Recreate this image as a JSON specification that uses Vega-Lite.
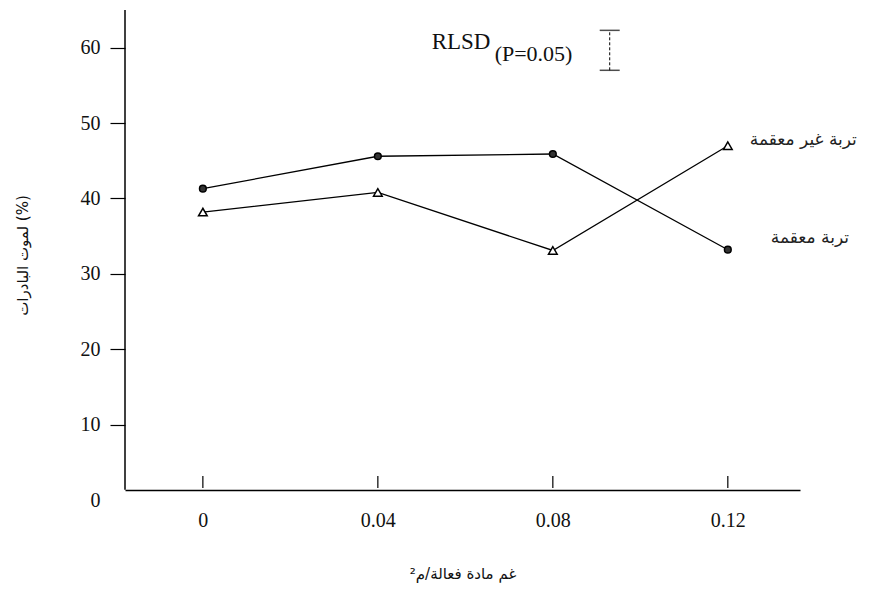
{
  "$schema": "https://vega.github.io/schema/vega-lite/v6.json",
  "width": 675,
  "height": 490,
  "autosize": {"type": "none"},
  "padding": {"left": 125, "top": 10, "right": 83, "bottom": 100},
  "background": "white",
  "config": {
    "view": {"stroke": null},
    "axis": {"grid": false, "domainColor": "black", "tickColor": "black", "labelColor": "#111", "titleColor": "#111", "labelFont": "Liberation Serif", "labelFontSize": 20, "titleFont": "DejaVu Sans", "titleFontWeight": "normal", "titleFontSize": 15, "domainWidth": 1.5, "tickWidth": 1.2}
  },
  "datasets": {
    "series": [
      {"soil": "تربة معقمة", "dose": 0, "death": 41.3},
      {"soil": "تربة معقمة", "dose": 0.04, "death": 45.6},
      {"soil": "تربة معقمة", "dose": 0.08, "death": 45.9},
      {"soil": "تربة معقمة", "dose": 0.12, "death": 33.2},
      {"soil": "تربة غير معقمة", "dose": 0, "death": 38.2},
      {"soil": "تربة غير معقمة", "dose": 0.04, "death": 40.8},
      {"soil": "تربة غير معقمة", "dose": 0.08, "death": 33.1},
      {"soil": "تربة غير معقمة", "dose": 0.12, "death": 47.0}
    ]
  },
  "layer": [
    {
      "data": {"name": "series"},
      "mark": {"type": "line", "color": "black", "strokeWidth": 1.3},
      "encoding": {
        "x": {"field": "dose", "type": "quantitative", "scale": {"domain": [-0.0178, 0.1365], "nice": false, "zero": false},
          "axis": {"values": [0, 0.04, 0.08, 0.12], "labelExpr": "datum.value == 0 ? '0' : format(datum.value, '.2f')", "ticks": false, "offset": -10, "labelPadding": 20, "title": "غم مادة فعالة/م²", "titlePadding": 36}},
        "y": {"field": "death", "type": "quantitative", "scale": {"domain": [0, 65], "nice": false},
          "axis": {"values": [0, 10, 20, 30, 40, 50, 60], "domain": false, "tickSize": 15, "labelPadding": 10, "tickOpacity": {"expr": "datum.value == 0 ? 0 : 1"}, "title": "لموت البادرات (%)", "titlePadding": 50}},
        "detail": {"field": "soil"}
      }
    },
    {
      "data": {"values": [{"dose": -0.0178, "lo": 1.35, "hi": 65}]},
      "mark": {"type": "rule", "color": "black", "strokeWidth": 1.5},
      "encoding": {
        "x": {"field": "dose", "type": "quantitative"},
        "y": {"field": "lo", "type": "quantitative"},
        "y2": {"field": "hi"}
      }
    },
    {
      "data": {"values": [{"dose": 0, "lo": 1.6, "hi": 3.2}, {"dose": 0.04, "lo": 1.6, "hi": 3.2}, {"dose": 0.08, "lo": 1.6, "hi": 3.2}, {"dose": 0.12, "lo": 1.6, "hi": 3.2}]},
      "mark": {"type": "rule", "color": "black", "strokeWidth": 1.2},
      "encoding": {
        "x": {"field": "dose", "type": "quantitative"},
        "y": {"field": "lo", "type": "quantitative"},
        "y2": {"field": "hi"}
      }
    },
    {
      "data": {"name": "series"},
      "mark": {"type": "point", "strokeWidth": 1.5, "opacity": 1},
      "encoding": {
        "x": {"field": "dose", "type": "quantitative"},
        "y": {"field": "death", "type": "quantitative"},
        "shape": {"field": "soil", "type": "nominal", "scale": {"domain": ["تربة معقمة", "تربة غير معقمة"], "range": ["circle", "triangle-up"]}, "legend": null},
        "size": {"field": "soil", "type": "nominal", "scale": {"domain": ["تربة معقمة", "تربة غير معقمة"], "range": [45, 75]}, "legend": null},
        "fill": {"field": "soil", "type": "nominal", "scale": {"domain": ["تربة معقمة", "تربة غير معقمة"], "range": ["#333333", "white"]}, "legend": null},
        "stroke": {"value": "black"}
      }
    },
    {
      "data": {"values": [{"label": "تربة غير معقمة", "dose": 0.12, "death": 47.8}]},
      "mark": {"type": "text", "align": "left", "baseline": "middle", "font": "DejaVu Sans", "fontSize": 17, "color": "#222", "dx": 22},
      "encoding": {
        "x": {"field": "dose", "type": "quantitative"},
        "y": {"field": "death", "type": "quantitative"},
        "text": {"field": "label"}
      }
    },
    {
      "data": {"values": [{"label": "تربة معقمة", "dose": 0.12, "death": 34.7}]},
      "mark": {"type": "text", "align": "left", "baseline": "middle", "font": "DejaVu Sans", "fontSize": 17, "color": "#222", "dx": 43},
      "encoding": {
        "x": {"field": "dose", "type": "quantitative"},
        "y": {"field": "death", "type": "quantitative"},
        "text": {"field": "label"}
      }
    },
    {
      "data": {"values": [
        {"t": "RLSD", "dose": 0.0523, "death": 60.7, "fs": 23},
        {"t": "(P=0.05)", "dose": 0.0667, "death": 59.2, "fs": 22}
      ]},
      "mark": {"type": "text", "align": "left", "baseline": "middle", "font": "Liberation Serif", "color": "#111"},
      "encoding": {
        "x": {"field": "dose", "type": "quantitative"},
        "y": {"field": "death", "type": "quantitative"},
        "text": {"field": "t"},
        "size": {"field": "fs", "type": "quantitative", "scale": null}
      }
    },
    {
      "data": {"values": [{"dose": 0.093, "lo": 57.0, "hi": 62.3}]},
      "mark": {"type": "rule", "color": "black", "strokeWidth": 1, "strokeDash": [3, 2]},
      "encoding": {
        "x": {"field": "dose", "type": "quantitative"},
        "y": {"field": "lo", "type": "quantitative"},
        "y2": {"field": "hi"}
      }
    },
    {
      "data": {"values": [{"dose": 0.093, "v": 57.0}, {"dose": 0.093, "v": 62.3}]},
      "mark": {"type": "tick", "orient": "horizontal", "color": "black", "thickness": 1.5, "size": 20},
      "encoding": {
        "x": {"field": "dose", "type": "quantitative"},
        "y": {"field": "v", "type": "quantitative"}
      }
    }
  ]
}
